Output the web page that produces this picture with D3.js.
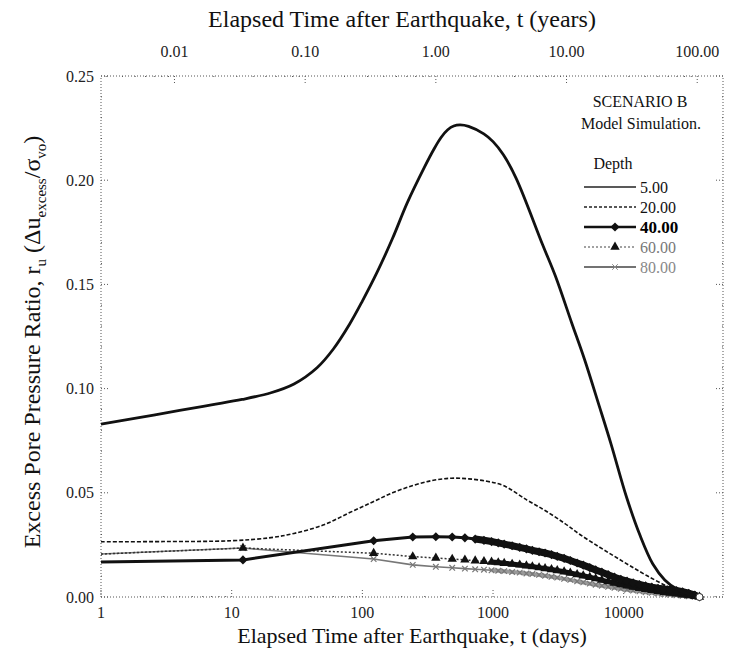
<!DOCTYPE html>
<html><head><meta charset="utf-8">
<script src="https://cdn.jsdelivr.net/npm/d3@7"></script>
<style>
body{margin:0;background:#fff;}
svg{display:block;font-family:"Liberation Serif","Times New Roman",serif;}
</style></head>
<body><svg id="chart" width="737" height="653"></svg>
<script>
// ---------------- data ----------------
const dayTicks = [1, 10, 100, 1000, 10000];
const yearTicks = [0.01, 0.1, 1, 10, 100];
const yearTickLabels = ["0.01", "0.10", "1.00", "10.00", "100.00"];
const yTicks = [0, 0.05, 0.10, 0.15, 0.20, 0.25];
const depthLabels = ["5.00", "20.00", "40.00", "60.00", "80.00"];

// depth 5 m (smooth curve)
const depth5Days = [1, 2, 4, 7, 12, 20, 30, 45, 60, 80, 100, 130, 170, 220, 300, 350, 400, 450, 500, 560, 650, 850, 1000, 1200, 1500, 2400, 3000, 4000, 5000, 6500, 8000, 10500, 13300, 16700, 20600, 25500, 32000, 38000];
const depth5Values = [0.083, 0.0862, 0.0895, 0.0922, 0.0948, 0.0980, 0.1022, 0.1100, 0.1190, 0.1310, 0.1420, 0.1560, 0.1720, 0.1890, 0.2065, 0.2145, 0.2205, 0.2242, 0.2260, 0.2265, 0.2258, 0.2222, 0.2185, 0.2122, 0.2010, 0.1689, 0.1540, 0.1315, 0.1142, 0.0916, 0.0734, 0.0480, 0.0297, 0.0158, 0.0082, 0.0038, 0.0012, 0.0];

// depth 20 m (smooth curve)
const depth20Days = [1, 3, 10, 20, 30, 50, 80, 120, 170, 250, 350, 480, 650, 900, 1200, 1820, 2500, 3500, 4620, 6500, 8500, 11150, 15000, 21400, 28000, 38000];
const depth20Values = [0.0265, 0.0266, 0.0270, 0.0285, 0.0305, 0.0345, 0.0405, 0.0456, 0.0500, 0.0537, 0.0560, 0.0570, 0.0567, 0.0555, 0.0535, 0.0465, 0.0415, 0.0355, 0.0300, 0.0240, 0.0195, 0.0150, 0.0103, 0.0052, 0.0022, 0.0];

// model output times shared by depths 40, 60, 80 (days)
const modelDays = [1, 12.2, 122, 243, 365, 487, 609, 730, 852, 974, 1096, 1217, 1400, 1600, 1800, 2000, 2250, 2500, 2800, 3100, 3500, 3900, 4400, 4900, 5500, 6100, 6800, 7600, 8500, 9500, 10600, 11800, 13200, 14700, 16400, 18300, 20400, 22700, 25300, 28200, 31400, 35000, 38000];
const depth40Values = [0.0168, 0.0178, 0.0270, 0.0288, 0.0289, 0.0288, 0.0284, 0.0278, 0.0272, 0.0266, 0.0260, 0.0254, 0.0246, 0.0238, 0.0231, 0.0224, 0.0217, 0.0211, 0.0203, 0.0195, 0.0185, 0.0175, 0.0163, 0.0153, 0.0141, 0.0130, 0.0119, 0.0107, 0.0095, 0.0085, 0.0076, 0.0068, 0.0060, 0.0053, 0.0047, 0.0042, 0.0038, 0.0035, 0.0031, 0.0025, 0.0018, 0.0009, 0.0];
const depth60Values = [0.0206, 0.0235, 0.0210, 0.0194, 0.0187, 0.0182, 0.0178, 0.0174, 0.0171, 0.0168, 0.0165, 0.0162, 0.0158, 0.0154, 0.0150, 0.0146, 0.0141, 0.0137, 0.0132, 0.0127, 0.0121, 0.0115, 0.0108, 0.0102, 0.0095, 0.0088, 0.0081, 0.0074, 0.0067, 0.0060, 0.0054, 0.0048, 0.0042, 0.0037, 0.0032, 0.0027, 0.0023, 0.0019, 0.0015, 0.0011, 0.0007, 0.0003, 0.0];
const depth80Values = [0.0206, 0.0235, 0.0182, 0.0154, 0.0145, 0.0140, 0.0136, 0.0133, 0.0131, 0.0128, 0.0126, 0.0124, 0.0120, 0.0117, 0.0113, 0.0110, 0.0106, 0.0102, 0.0097, 0.0093, 0.0087, 0.0082, 0.0075, 0.0070, 0.0064, 0.0059, 0.0054, 0.0049, 0.0044, 0.0039, 0.0035, 0.0031, 0.0027, 0.0023, 0.0020, 0.0017, 0.0014, 0.0011, 0.0008, 0.0006, 0.0003, 0.0001, 0.0];

// ---------------- layout ----------------
const svg = d3.select("#chart");
const L = 101, R = 723, T = 76, B = 597;
const x = d3.scaleLog().domain([1, 57500]).range([L, R]);
const xTop = d3.scaleLog().domain([1/365, 57500/365]).range([L, R]);
const y = d3.scaleLinear().domain([0, 0.25]).range([B, T]);
const frameColor = "#555";
const dot = "1,2";

svg.append("rect").attr("x", L).attr("y", T).attr("width", R - L).attr("height", B - T)
  .attr("fill", "none").attr("stroke", frameColor).attr("stroke-width", 1).attr("stroke-dasharray", dot);

const g = svg.append("g");
const yMinor = d3.range(0, 0.2501, 0.01);
yMinor.forEach(v => {
  const major = Math.abs(Math.round(v * 20) - v * 20) < 1e-6;
  const len = major ? 7 : 3;
  g.append("line").attr("x1", L).attr("x2", L + len).attr("y1", y(v)).attr("y2", y(v))
    .attr("stroke", frameColor).attr("stroke-dasharray", dot);
  g.append("line").attr("x1", R).attr("x2", R - len).attr("y1", y(v)).attr("y2", y(v))
    .attr("stroke", frameColor).attr("stroke-dasharray", dot);
});
const dayMinor = [];
for (let d = 1; d <= 10000; d *= 10) for (let k = 1; k <= 9; k++) if (d * k < 57500) dayMinor.push(d * k);
dayMinor.forEach(v => {
  const len = dayTicks.includes(v) ? 7 : 3;
  g.append("line").attr("x1", x(v)).attr("x2", x(v)).attr("y1", B).attr("y2", B - len)
    .attr("stroke", frameColor).attr("stroke-dasharray", dot);
});
const yrMinor = [];
[0.001, 0.01, 0.1, 1, 10, 100].forEach(d => { for (let k = 1; k <= 9; k++) { const v = d * k; if (v > 1/365 && v < 57500/365) yrMinor.push(v); } });
yrMinor.forEach(v => {
  const len = yearTicks.some(t => Math.abs(t - v) < 1e-9) ? 7 : 3;
  g.append("line").attr("x1", xTop(v)).attr("x2", xTop(v)).attr("y1", T).attr("y2", T + len)
    .attr("stroke", frameColor).attr("stroke-dasharray", dot);
});

const tickFont = 16;
svg.append("g").selectAll("text").data(yTicks).join("text")
  .attr("x", L - 7).attr("y", d => y(d)).attr("dy", "0.35em").attr("text-anchor", "end")
  .attr("font-size", tickFont).attr("fill", "#222").text(d => d.toFixed(2));
svg.append("g").selectAll("text").data(dayTicks).join("text")
  .attr("x", d => x(d)).attr("y", B + 21).attr("text-anchor", "middle")
  .attr("font-size", tickFont).attr("fill", "#222").text(d => String(d));
svg.append("g").selectAll("text").data(yearTicks).join("text")
  .attr("x", d => xTop(d)).attr("y", T - 19).attr("text-anchor", "middle")
  .attr("font-size", tickFont).attr("fill", "#222").text((d, i) => yearTickLabels[i]);

svg.append("text").attr("x", 402).attr("y", 27).attr("text-anchor", "middle")
  .attr("font-size", 24).attr("fill", "#111").text("Elapsed Time after Earthquake, t (years)");
svg.append("text").attr("x", 412).attr("y", 643).attr("text-anchor", "middle")
  .attr("font-size", 22).attr("fill", "#111").text("Elapsed Time after Earthquake, t (days)");
const yt = svg.append("text").attr("transform", "translate(40,342) rotate(-90)")
  .attr("text-anchor", "middle").attr("font-size", 24).attr("fill", "#111");
yt.append("tspan").text("Excess Pore Pressure Ratio,  r");
yt.append("tspan").attr("font-size", 15).attr("dy", 6).text("u");
yt.append("tspan").attr("dy", -6).text(" (Δu");
yt.append("tspan").attr("font-size", 15).attr("dy", 6).text("excess");
yt.append("tspan").attr("dy", -6).text("/σ");
yt.append("tspan").attr("font-size", 15).attr("dy", 6).text("vo");
yt.append("tspan").attr("dy", -6).text(")");

// ---------------- series ----------------
const zip = (ds, vs) => ds.map((d, i) => [d, vs[i]]);
const lineSmooth = d3.line().x(d => x(d[0])).y(d => y(d[1])).curve(d3.curveCatmullRom.alpha(0.5));
const lineStraight = d3.line().x(d => x(d[0])).y(d => y(d[1]));
const plot = svg.append("g");

const d80 = zip(modelDays, depth80Values);
const d60 = zip(modelDays, depth60Values);
const d40 = zip(modelDays, depth40Values);
const tailStart = modelDays.indexOf(974);

// depth 80: gray line, dense small crosses merge into a band late in time
plot.append("path").attr("d", lineStraight(d80)).attr("fill", "none").attr("stroke", "#777").attr("stroke-width", 1.6);
plot.append("path").attr("d", lineStraight(d80.slice(tailStart))).attr("fill", "none").attr("stroke", "#999").attr("stroke-width", 4);
const cross = d3.symbol().type(d3.symbolX).size(22);
plot.append("g").selectAll("path").data(d80.slice(1)).join("path")
  .attr("transform", d => `translate(${x(d[0])},${y(d[1])})`).attr("d", cross)
  .attr("fill", "none").attr("stroke", "#777").attr("stroke-width", 1.2);

// depth 60: dotted with triangles
plot.append("path").attr("d", lineStraight(d60)).attr("fill", "none").attr("stroke", "#333")
  .attr("stroke-width", 1.5).attr("stroke-dasharray", "2,2");
plot.append("path").attr("d", lineStraight(d60.slice(tailStart))).attr("fill", "none").attr("stroke", "#111").attr("stroke-width", 5);
const tri = d3.symbol().type(d3.symbolTriangle).size(38);
plot.append("g").selectAll("path").data(d60.slice(1)).join("path")
  .attr("transform", d => `translate(${x(d[0])},${y(d[1])})`).attr("d", tri).attr("fill", "#111");

// depth 40: thick with diamonds
plot.append("path").attr("d", lineStraight(d40)).attr("fill", "none").attr("stroke", "#111").attr("stroke-width", 3);
plot.append("path").attr("d", lineStraight(d40.slice(tailStart - 2))).attr("fill", "none").attr("stroke", "#111").attr("stroke-width", 7);
const dia = d3.symbol().type(d3.symbolSquare).size(42);
plot.append("g").selectAll("path").data(d40.slice(1)).join("path")
  .attr("transform", d => `translate(${x(d[0])},${y(d[1])}) rotate(45)`).attr("d", dia).attr("fill", "#111");

// depth 20
plot.append("path").attr("d", lineSmooth(zip(depth20Days, depth20Values))).attr("fill", "none")
  .attr("stroke", "#111").attr("stroke-width", 1.6).attr("stroke-dasharray", "4,2");

// depth 5
plot.append("path").attr("d", lineSmooth(zip(depth5Days, depth5Values))).attr("fill", "none")
  .attr("stroke", "#111").attr("stroke-width", 2.8);

const last = d80[d80.length - 1];
plot.append("circle").attr("cx", x(last[0])).attr("cy", y(last[1])).attr("r", 3.5)
  .attr("fill", "#fff").attr("stroke", "#333").attr("stroke-width", 1);

// ---------------- annotation & legend ----------------
svg.append("text").attr("x", 640).attr("y", 107).attr("text-anchor", "middle")
  .attr("font-size", 16).attr("fill", "#111").text("SCENARIO B");
svg.append("text").attr("x", 641).attr("y", 129).attr("text-anchor", "middle")
  .attr("font-size", 16).attr("fill", "#111").text("Model Simulation.");

svg.append("text").attr("x", 613).attr("y", 169).attr("text-anchor", "middle")
  .attr("font-size", 16).attr("fill", "#111").text("Depth");
const legY = [187, 207, 227, 247, 267];
const lx1 = 584, lx2 = 636;
const legStyles = [
  {stroke: "#222", w: 1.6, dash: null, marker: null, txt: "#111", size: 16},
  {stroke: "#222", w: 1.4, dash: "3,2", marker: null, txt: "#111", size: 16},
  {stroke: "#111", w: 2.4, dash: null, marker: "dia", txt: "#000", size: 17},
  {stroke: "#444", w: 1.2, dash: "2,2", marker: "tri", txt: "#777", size: 16},
  {stroke: "#444", w: 1.6, dash: null, marker: "x", txt: "#888", size: 16}
];
depthLabels.forEach((lab, i) => {
  const s = legStyles[i], yy = legY[i];
  const ln = svg.append("line").attr("x1", lx1).attr("x2", lx2).attr("y1", yy).attr("y2", yy)
    .attr("stroke", s.stroke).attr("stroke-width", s.w);
  if (s.dash) ln.attr("stroke-dasharray", s.dash);
  const mx = (lx1 + lx2) / 2 + 5;
  if (s.marker === "dia") svg.append("path").attr("transform", `translate(${mx},${yy}) rotate(45)`).attr("d", dia).attr("fill", "#111");
  if (s.marker === "tri") svg.append("path").attr("transform", `translate(${mx},${yy})`).attr("d", tri).attr("fill", "#111");
  if (s.marker === "x") svg.append("path").attr("transform", `translate(${mx},${yy})`).attr("d", cross).attr("fill", "none").attr("stroke", "#888");
  svg.append("text").attr("x", 640).attr("y", yy).attr("dy", "0.35em").attr("font-size", s.size)
    .attr("fill", s.txt).attr("font-weight", i === 2 ? "bold" : "normal").text(lab);
});
</script></body></html>
